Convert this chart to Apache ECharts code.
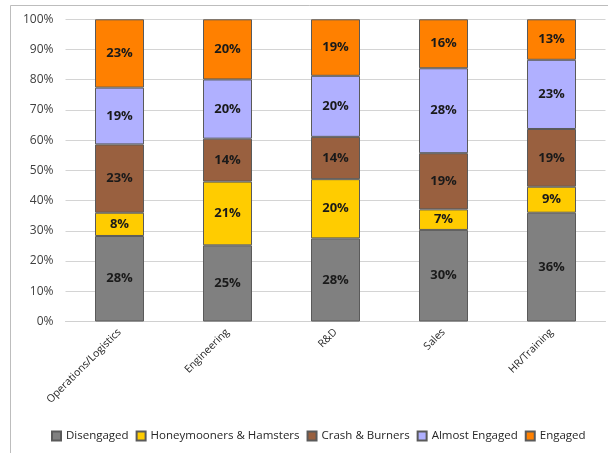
<!DOCTYPE html>
<html>
<head>
<meta charset="utf-8">
<script src="https://cdn.jsdelivr.net/npm/echarts@6/dist/echarts.min.js"></script>
<style>
  html,body{margin:0;padding:0;background:#fff;}
  #main{width:608px;height:453px;}
</style>
</head>
<body>
<div id="main"></div>
<script>
var categories = ['Operations/Logistics', 'Engineering', 'R&D', 'Sales', 'HR/Training'];
var yTicks = [0, 10, 20, 30, 40, 50, 60, 70, 80, 90, 100];

/* share of each group, percent */
var disengaged    = [28.3, 25.2, 27.5, 30.3, 36.0];
var honeymooners  = [7.7, 21.1, 19.6, 6.8, 8.6];
var crashBurners  = [22.6, 14.2, 14.0, 18.6, 19.1];
var almostEngaged = [18.8, 19.6, 20.2, 28.1, 22.9];
var engaged       = [22.6, 19.9, 18.7, 16.2, 13.4];

var seriesNames = ['Disengaged', 'Honeymooners & Hamsters', 'Crash & Burners', 'Almost Engaged', 'Engaged'];
var seriesData = [disengaged, honeymooners, crashBurners, almostEngaged, engaged];
var colors = ['#808080', '#FFCC00', '#99603F', '#B0B0FF', '#FF8000'];

var FONT = 'Open Sans';

var series = seriesNames.map(function (name, i) {
  return {
    name: name,
    type: 'bar',
    stack: 'total',
    barWidth: 49,
    data: seriesData[i],
    itemStyle: { color: colors[i], borderColor: '#5a5a5a', borderWidth: 1 },
    label: {
      show: true,
      position: 'inside',
      color: '#1a1a1a',
      fontFamily: FONT,
      fontWeight: 'bold',
      fontSize: 13,
      formatter: function (p) { return Math.round(p.value) + '%'; }
    }
  };
});

var myChart = echarts.init(document.getElementById('main'));
var option = {
  animation: false,
  color: colors,
  graphic: [{
    type: 'rect',
    shape: { x: 10.5, y: 5.5, width: 620, height: 470 },
    style: { fill: 'none', stroke: '#bdbdbd', lineWidth: 1 },
    silent: true
  }],
  grid: { left: 65.5, right: 2.5, top: 19.3, bottom: 131.5, containLabel: false },
  legend: {
    bottom: 6,
    left: 46,
    icon: 'rect',
    itemWidth: 9,
    itemHeight: 9,
    itemGap: 7,
    textStyle: { fontFamily: FONT, fontSize: 11.5, color: '#262626' },
    data: seriesNames
  },
  xAxis: {
    type: 'category',
    data: categories,
    axisTick: { show: false },
    axisLine: { lineStyle: { color: '#d0d0d0' } },
    axisLabel: {
      rotate: 45,
      interval: 0,
      margin: 9,
      fontFamily: FONT,
      fontSize: 10.5,
      color: '#262626'
    }
  },
  yAxis: {
    type: 'value',
    min: yTicks[0],
    max: yTicks[yTicks.length - 1],
    interval: 10,
    axisLine: { show: false },
    axisTick: { show: false },
    splitLine: { lineStyle: { color: '#d4d4d4' } },
    axisLabel: {
      margin: 12,
      fontFamily: FONT,
      fontSize: 12,
      color: '#404040',
      formatter: '{value}%'
    }
  },
  series: series
};
myChart.setOption(option);
</script>
</body>
</html>
